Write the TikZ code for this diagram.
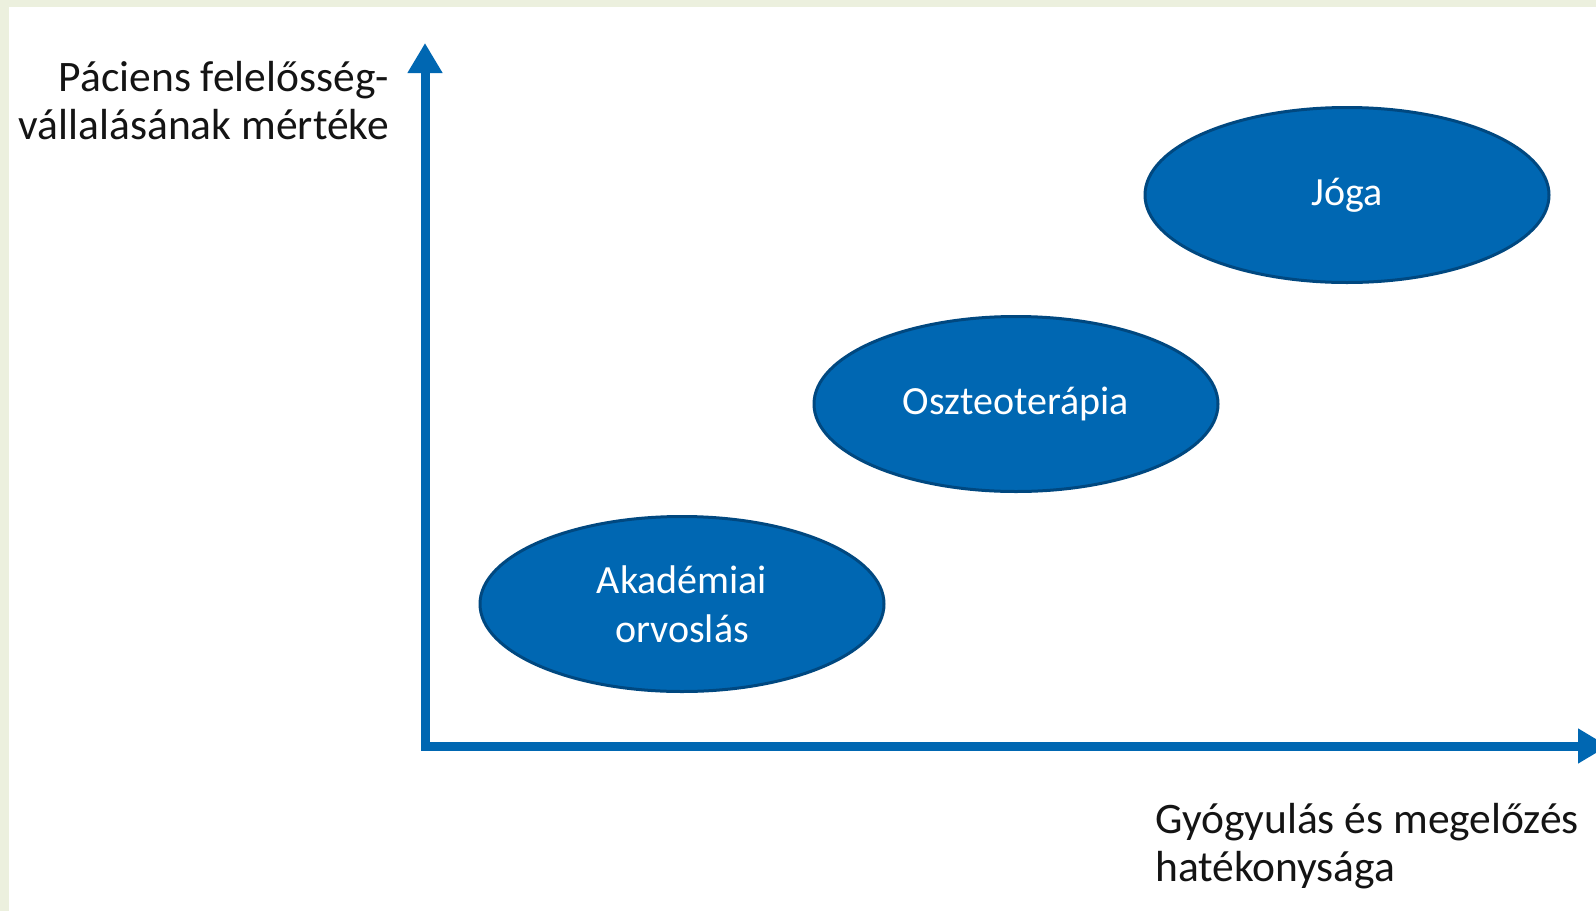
\documentclass[tikz,border=0pt]{standalone}
\usepackage{fontspec}
\setmainfont{Carlito}
\usepackage{tikz}
\usetikzlibrary{arrows.meta,shapes.geometric}
\definecolor{pgbg}{RGB}{236,240,222}
\definecolor{ovfill}{RGB}{0,103,178}
\definecolor{ovedge}{RGB}{0,72,128}
\definecolor{axblue}{RGB}{0,103,178}
\definecolor{txtdark}{RGB}{20,20,20}
\tikzset{
  axis/.style={draw=axblue, line width=9pt, line join=miter,
    {Triangle[length=30pt,width=33pt]}-{Triangle[length=30pt,width=33pt]}},
  oval/.style={ellipse, draw=ovedge, fill=ovfill, line width=3pt,
    minimum width=404pt, minimum height=175pt, inner sep=0pt,
    text=white, align=center, font=\fontsize{40}{49}\selectfont},
  axlbl/.style={inner sep=0pt, text=txtdark, font=\fontsize{43.5}{48}\selectfont}
}
\begin{document}
\begin{tikzpicture}[x=1pt,y=-1pt]
  % frame
  \fill[pgbg] (0,0) rectangle (1596,911);
  \fill[white] (9,7) rectangle (1596,911);
  \useasboundingbox (0,0) rectangle (1596,911);

  % axes
  \coordinate (orig) at (425,746);
  \coordinate (ytop) at (425,43);
  \coordinate (xend) at (1608,746);
  \draw[axis] (ytop) -- (orig) -- (xend);

  % axis labels
  \node[axlbl, anchor=east, align=right] (ylbl) at (389,101)
    {Páciens felelősség-\\vállalásának mértéke};
  \node[axlbl, anchor=west, align=left] (xlbl) at (1155,846)
    {Gyógyulás és megelőzés\\hatékonysága};

  % methods
  \node[oval] (joga) at (1347,195) {Jóga};
  \node[oval] (oszt) at (1016,404) {Oszteoterápia};
  \node[oval] (akad) at (682,604) {Akadémiai\\orvoslás};
\end{tikzpicture}
\end{document}
